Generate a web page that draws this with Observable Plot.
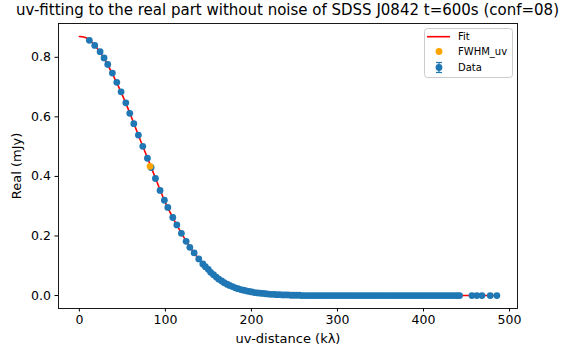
<!DOCTYPE html>
<html>
<head>
<meta charset="utf-8">
<script src="https://cdn.jsdelivr.net/npm/d3@7"></script>
<script src="https://cdn.jsdelivr.net/npm/@observablehq/plot@0.6"></script>
<style>
  html, body { margin: 0; padding: 0; background: #fff; }
  #wrap { position: relative; width: 569px; height: 351px; font-family: "DejaVu Sans", sans-serif; }
  #title { position: absolute; left: 0; width: 575px; top: 3px; text-align: center; font-size: 15px; line-height: 15px; color: #000; white-space: nowrap; }
  #legend { position: absolute; left: 424px; top: 28px; }
  #chart svg g[aria-label="x-axis label"], #chart svg g[aria-label="y-axis label"],
  #chart svg g[aria-label="x-axis label"] text, #chart svg g[aria-label="y-axis label"] text { font-size: 13px !important; }
</style>
</head>
<body>
<div id="wrap">
  <div id="chart"></div>
  <div id="title">uv-fitting to the real part without noise of SDSS J0842 t=600s (conf=08)</div>
  <svg id="legend" width="90" height="51"></svg>
</div>
<script>
// ---- data ----
const titleText = "uv-fitting to the real part without noise of SDSS J0842 t=600s (conf=08)";
const xLabel = "uv-distance (kλ)";
const yLabel = "Real (mJy)";
const xTicks = [0, 100, 200, 300, 400, 500];
const yTicks = [0.0, 0.2, 0.4, 0.6, 0.8];

// Data points (uv-distance in kλ, real part in mJy)
const dataU = [
  11.6, 17.9, 24.1, 28.7, 33.0, 38.4, 43.5, 48.5, 54.0, 58.6, 63.3, 68.6, 73.7, 79.1, 83.4, 88.4,
  93.8, 98.8, 102.8, 108.6, 113.3, 118.6, 124.1, 128.4, 133.4, 138.8, 143.5,
  146.5, 149.8, 152.6, 155.9, 159.1, 162.0, 165.4, 168.3, 171.7, 174.6, 177.9, 181.2, 184.3, 187.5,
  190.8, 193.9, 197.2, 200.4, 203.6, 206.9, 210.1, 213.2, 216.6, 219.8, 223.0, 226.3, 229.5, 232.7,
  236.0, 239.3, 242.4, 245.8, 249.0, 252.2, 255.6, 258.8,
  262.0, 265.3, 268.7, 271.9, 275.2, 278.4, 281.8, 285.0, 288.3, 291.5, 294.9, 298.2, 301.4, 304.7,
  308.0, 311.2, 314.6, 317.8, 321.1, 324.5, 327.7, 331.0, 334.2, 337.6, 340.9, 344.1, 347.4, 350.8,
  354.0, 357.3, 360.5, 363.9, 367.2, 370.4, 373.7, 377.1, 380.3, 383.6, 386.8, 390.2, 393.5, 396.7,
  400.0, 403.4, 406.6, 409.9, 413.1, 416.5, 419.8, 423.0, 426.3, 429.7, 432.9, 436.2, 439.4, 441.9,
  456.3, 462.0, 467.9, 477.6, 485.3
];
const dataReal = [
  0.857, 0.840, 0.819, 0.798, 0.776, 0.747, 0.716, 0.684, 0.647, 0.612, 0.577, 0.539, 0.501, 0.461, 0.430, 0.393,
  0.353, 0.320, 0.296, 0.262, 0.237, 0.209, 0.182, 0.162, 0.143, 0.123, 0.106,
  0.097, 0.088, 0.078, 0.070, 0.062, 0.055, 0.049, 0.043, 0.038, 0.034, 0.030, 0.026, 0.023, 0.020,
  0.018, 0.016, 0.014, 0.012, 0.010, 0.009, 0.008, 0.007, 0.006, 0.005, 0.004, 0.004, 0.003, 0.003,
  0.002, 0.002, 0.002, 0.001, 0.001, 0.001, 0.001, 0.000,
  0.000, 0.000, 0.000, 0.000, 0.000, 0.000, 0.000, 0.000, 0.000, 0.000, 0.000, 0.000, 0.000, 0.000,
  0.000, 0.000, 0.000, 0.000, 0.000, 0.000, 0.000, 0.000, 0.000, 0.000, 0.000, 0.000, 0.000, 0.000,
  0.000, 0.000, 0.000, 0.000, 0.000, 0.000, 0.000, 0.000, 0.000, 0.000, 0.000, 0.000, 0.000, 0.000,
  0.000, 0.000, 0.000, 0.000, 0.000, 0.000, 0.000, 0.000, 0.000, 0.000, 0.000, 0.000, 0.000, 0.000,
  0.000, 0.000, 0.000, 0.000, 0.000
];

// Fit curve samples
const fitU = [0, 5, 10, 20, 30, 40, 50, 60, 70, 80, 90, 100, 110, 120, 130, 140, 150, 160, 170, 180,
  190, 200, 210, 220, 230, 240, 250, 260, 300, 350, 400, 450, 485.3];
const fitReal = [0.870, 0.868, 0.862, 0.833, 0.790, 0.735, 0.673, 0.603, 0.528, 0.456, 0.383, 0.312,
  0.254, 0.203, 0.157, 0.118, 0.085, 0.060, 0.041, 0.027, 0.018, 0.012, 0.008, 0.005, 0.003, 0.002,
  0.001, 0.000, 0.000, 0.000, 0.000, 0.000, 0.000];

// FWHM point
const fwhmU = [82.2];
const fwhmReal = [0.434];

// ---- build tables ----
const data = dataU.map((u, i) => ({u, v: dataReal[i]}));
const fit = fitU.map((u, i) => ({u, v: fitReal[i]}));
const fwhm = fwhmU.map((u, i) => ({u, v: fwhmReal[i]}));

const blue = "#1f77b4";
const font = "DejaVu Sans";

const chart = Plot.plot({
  width: 569,
  height: 351,
  marginLeft: 58,
  marginRight: 52,
  marginTop: 23,
  marginBottom: 43,
  style: {fontFamily: font, fontSize: "12.5px", color: "#000", background: "#fff", overflow: "visible"},
  x: {domain: [-24.25, 509.25]},
  y: {domain: [-0.0435, 0.9135]},
  marks: [
    Plot.line(fit, {x: "u", y: "v", stroke: "red", strokeWidth: 1.6, curve: "monotone-x"}),
    Plot.dot(data, {x: "u", y: "v", r: 3.4, fill: blue, stroke: "none"}),
    Plot.dot(fwhm, {x: "u", y: "v", r: 3.4, fill: "orange", stroke: "none"}),
    Plot.frame({stroke: "#000", strokeWidth: 0.9}),
    Plot.axisX({ticks: xTicks, tickSize: 3.5, tickPadding: 3, tickFormat: d3.format("d"),
      label: xLabel, labelAnchor: "center", labelArrow: "none", labelOffset: 34, fontSize: 12.5}),
    Plot.axisY({ticks: yTicks, tickSize: 3.5, tickPadding: 4, tickFormat: d3.format(".1f"),
      label: yLabel, labelAnchor: "center", labelArrow: "none", labelOffset: 47, fontSize: 12.5})
  ]
});
document.getElementById("chart").appendChild(chart);
document.getElementById("title").textContent = titleText;

// ---- legend ----
const leg = d3.select("#legend");
leg.append("rect").attr("x", 0.5).attr("y", 0.5).attr("width", 88).attr("height", 49)
  .attr("rx", 3).attr("fill", "#fff").attr("fill-opacity", 0.8).attr("stroke", "#ccc");
const legItems = ["Fit", "FWHM_uv", "Data"];
const rowsY = [8.7, 23.5, 39.5];
leg.append("line").attr("x1", 3).attr("x2", 26).attr("y1", rowsY[0]).attr("y2", rowsY[0])
  .attr("stroke", "red").attr("stroke-width", 1.6);
leg.append("circle").attr("cx", 15).attr("cy", rowsY[1]).attr("r", 3.4).attr("fill", "orange");
leg.append("line").attr("x1", 15).attr("x2", 15).attr("y1", rowsY[2] - 5).attr("y2", rowsY[2] + 5)
  .attr("stroke", blue).attr("stroke-width", 1.2);
leg.append("line").attr("x1", 12).attr("x2", 18).attr("y1", rowsY[2] - 5).attr("y2", rowsY[2] - 5)
  .attr("stroke", blue).attr("stroke-width", 1.2);
leg.append("line").attr("x1", 12).attr("x2", 18).attr("y1", rowsY[2] + 5).attr("y2", rowsY[2] + 5)
  .attr("stroke", blue).attr("stroke-width", 1.2);
leg.append("circle").attr("cx", 15).attr("cy", rowsY[2]).attr("r", 3.4).attr("fill", blue);
legItems.forEach((t, i) => {
  leg.append("text").attr("x", 34).attr("y", rowsY[i]).attr("dy", "0.35em")
    .attr("font-family", font).attr("font-size", 10).attr("fill", "#000").text(t);
});
</script>
</body>
</html>
